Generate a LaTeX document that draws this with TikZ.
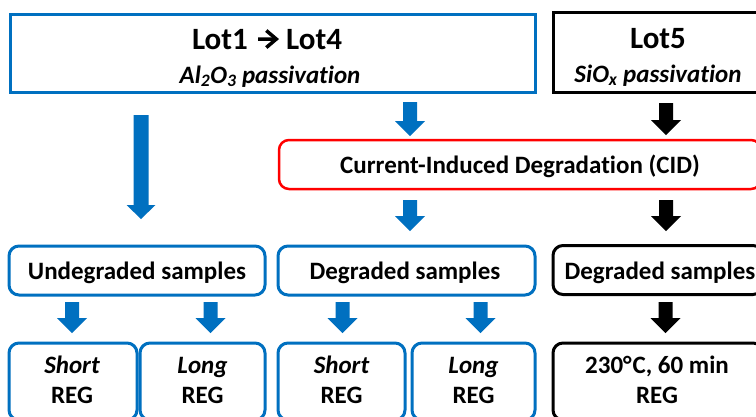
\documentclass[tikz,border=0pt]{standalone}
\usepackage{fontspec}
\setmainfont{Carlito}[Ligatures={NoCommon}]
\usetikzlibrary{arrows.meta}
\definecolor{oblue}{RGB}{0,112,192}
\definecolor{ored}{RGB}{255,0,0}
\begin{document}
\begin{tikzpicture}[x=1pt,y=-1pt,
  box/.style={line width=3pt, inner sep=0pt},
  bluebox/.style={box, draw=oblue},
  blackbox/.style={box, draw=black},
  round/.style={rounded corners=10pt},
  txt/.style={inner sep=0pt, font=\bfseries\fontsize{25}{30}\selectfont},
  bigtxt/.style={inner sep=0pt, font=\bfseries\fontsize{31}{36}\selectfont},
  subtxt/.style={inner sep=0pt, font=\bfseries\itshape\fontsize{25}{30}\selectfont},
  pics/barrow/.style={code={
    \fill (-7,0) -- (7,0) -- (7,{#1-15}) -- (15,{#1-15}) -- (0,#1) -- (-15,{#1-15}) -- (-7,{#1-15}) -- cycle;
  }},
  pics/bigarrow/.style={code={
    \fill (-7.5,0) -- (7.5,0) -- (7.5,{#1-14}) -- (14.5,{#1-14}) -- (0,#1) -- (-14.5,{#1-14}) -- (-7.5,{#1-14}) -- cycle;
  }}
]
\clip (0,0) rectangle (756,416);
\useasboundingbox (0,0) rectangle (756,416);
\fill[white] (0,0) rectangle (756,416);

% top boxes
\node[bluebox, minimum width=525pt, minimum height=78pt] (top) at (272.5,53) {};
\node[blackbox, minimum width=210pt, minimum height=80pt] (lot5box) at (658,52) {};
\node[bigtxt, anchor=base east] (l1) at (248,49) {Lot1};
\node[bigtxt, anchor=base west] (l4) at (286,49) {Lot4};
\draw[line width=3.5pt, -{Straight Barb[length=10pt,width=17pt]}] ([xshift=10pt]l1.east) -- ([xshift=-7pt]l4.west);
\node[subtxt, anchor=base] (al) at (270,83) {Al\textsubscript{2}O\textsubscript{3} passivation};
\node[bigtxt, anchor=base] (lot5) at (658,48) {Lot5};
\node[subtxt, anchor=base] (siox) at (658,82) {SiO\textsubscript{x} passivation};

% CID
\node[box, draw=ored, line width=2.5pt, round, minimum width=482pt, minimum height=49pt] (cid) at (520,164.5) {};
\node[txt, anchor=base] (cidt) at (520,173) {Current-Induced Degradation (CID)};

% row 2
\node[bluebox, round, minimum width=256pt, minimum height=49pt] (und) at (137,270.5) {};
\node[txt, anchor=base] (undt) at (137,279) {Undegraded samples};
\node[bluebox, round, minimum width=257pt, minimum height=49pt] (deg) at (406.5,270.5) {};
\node[txt, anchor=base] (degt) at (405,279) {Degraded samples};
\node[blackbox, round, minimum width=210pt, minimum height=49pt] (degb) at (658,270) {};
\node[txt, anchor=base] (degbt) at (660,279) {Degraded samples};

% row 3
\node[bluebox, round, minimum width=128pt, minimum height=77pt] (s1) at (73,381.5) {};
\node[bluebox, round, minimum width=125pt, minimum height=77pt] (g1) at (202.5,381.5) {};
\node[bluebox, round, minimum width=127pt, minimum height=77pt] (s2) at (341.5,381.5) {};
\node[bluebox, round, minimum width=123pt, minimum height=77pt] (g2) at (473.5,381.5) {};
\node[blackbox, round, minimum width=210pt, minimum height=77pt] (b3) at (658,381.5) {};
\node[txt, anchor=base] (s1a) at (72,373) {\itshape Short};
\node[txt, anchor=base] (s1b) at (72,403) {REG};
\node[txt, anchor=base] (g1a) at (202.5,373) {\itshape Long};
\node[txt, anchor=base] (g1b) at (202.5,403) {REG};
\node[txt, anchor=base] (s2a) at (341.5,373) {\itshape Short};
\node[txt, anchor=base] (s2b) at (341.5,403) {REG};
\node[txt, anchor=base] (g2a) at (473.5,373) {\itshape Long};
\node[txt, anchor=base] (g2b) at (473.5,403) {REG};
\node[txt, anchor=base] (b3a) at (657,373) {230°\kern1ptC, 60 min};
\node[txt, anchor=base] (b3b) at (657,403) {REG};

% block arrows
\pic[color=oblue] at (141,115) {bigarrow=104};
\pic[color=oblue] at (410,102) {barrow=34};
\pic[color=black] at (666,103) {barrow=32};
\pic[color=oblue] at (410,200) {barrow=31};
\pic[color=black] at (666,200) {barrow=31};
\pic[color=oblue] at (72,302) {barrow=31};
\pic[color=oblue] at (210.5,302) {barrow=31};
\pic[color=oblue] at (342.5,302) {barrow=31};
\pic[color=oblue] at (480.5,302) {barrow=31};
\pic[color=black] at (665.5,302) {barrow=31};
\end{tikzpicture}
\end{document}
